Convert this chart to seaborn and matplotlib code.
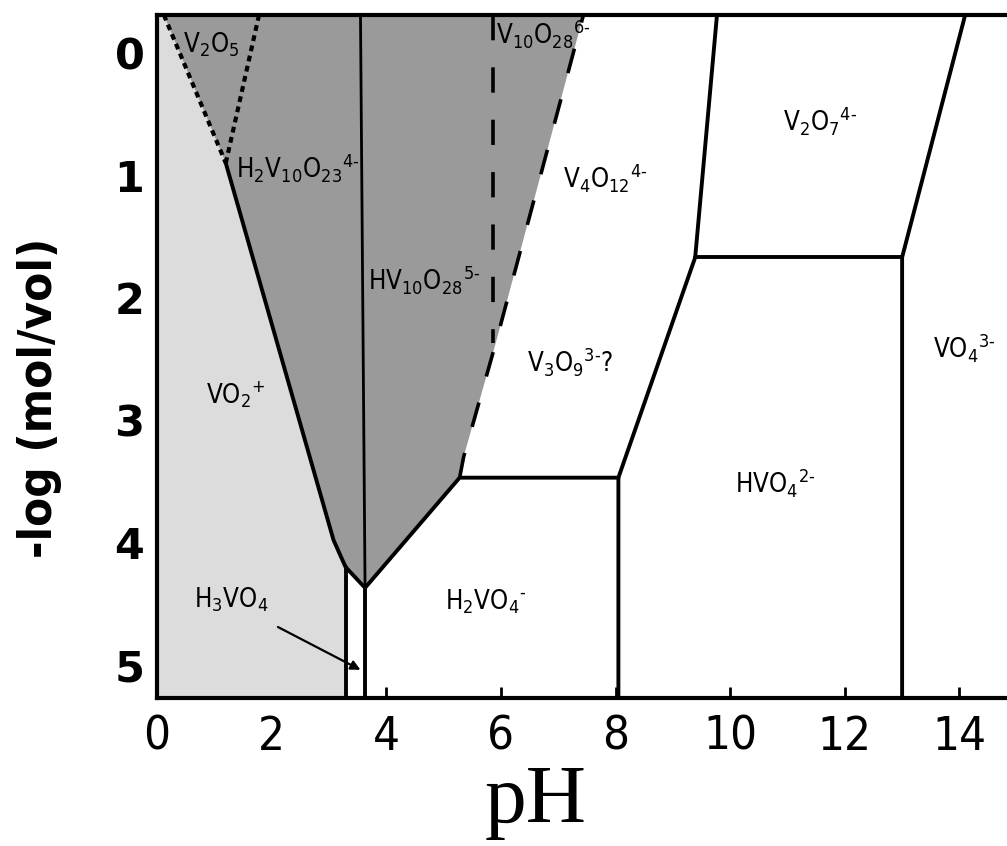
import matplotlib
matplotlib.use("Agg")
import matplotlib.pyplot as plt
import seaborn as sns

# ---------------- data ----------------
ph_range = [0.0, 14.83]
logc_range = [5.27, -0.31]          # inverted axis (bottom, top)
x_ticks = [0, 2, 4, 6, 8, 10, 12, 14]
y_ticks = [0, 1, 2, 3, 4, 5]

# shaded stability fields
vo2_ph = [0.0, 0.12, 1.20, 3.08, 3.29, 3.29, 0.0]
vo2_logc = [-0.31, -0.31, 0.90, 3.98, 4.20, 5.27, 5.27]
poly_ph = [0.12, 1.20, 3.08, 3.29, 3.63, 5.28, 5.35, 5.91, 7.44]
poly_logc = [-0.31, 0.90, 3.98, 4.20, 4.37, 3.47, 3.30, 2.37, -0.31]

# solid boundaries
b1_ph = [1.20, 3.08, 3.29, 3.63, 5.28, 8.05]
b1_logc = [0.90, 3.98, 4.20, 4.37, 3.47, 3.47]
b2_ph = [3.29, 3.29]
b2_logc = [4.20, 5.27]
b3_ph = [3.63, 3.63]
b3_logc = [4.37, 5.27]
b4_ph = [3.55, 3.63]
b4_logc = [-0.31, 4.37]
b5_ph = [8.05, 8.05, 9.39, 9.77]
b5_logc = [5.27, 3.47, 1.67, -0.31]
b6_ph = [9.39, 13.0]
b6_logc = [1.67, 1.67]
b7_ph = [13.0, 13.0, 14.1]
b7_logc = [5.27, 1.67, -0.31]

# dashed boundaries
d1_ph = [5.87, 5.87]
d1_logc = [-0.31, 2.37]
d2_ph = [5.28, 5.35, 5.91, 7.44]
d2_logc = [3.47, 3.30, 2.37, -0.31]

# dotted boundaries
p1_ph = [0.12, 1.20]
p1_logc = [-0.31, 0.90]
p2_ph = [1.78, 1.20]
p2_logc = [-0.31, 0.90]

species = [r"V$_2$O$_5$",
           r"H$_2$V$_{10}$O$_{23}{}^{4\text{-}}$",
           r"V$_{10}$O$_{28}{}^{6\text{-}}$",
           r"HV$_{10}$O$_{28}{}^{5\text{-}}$",
           r"V$_4$O$_{12}{}^{4\text{-}}$",
           r"V$_2$O$_7{}^{4\text{-}}$",
           r"V$_3$O$_9{}^{3\text{-}}$?",
           r"VO$_2{}^{+}$",
           r"HVO$_4{}^{2\text{-}}$",
           r"VO$_4{}^{3\text{-}}$",
           r"H$_3$VO$_4$",
           r"H$_2$VO$_4{}^{\text{-}}$"]
species_ph = [0.45, 1.38, 5.91, 3.69, 7.09, 10.92, 6.46, 0.85, 10.09, 13.54, 0.64, 5.03]
species_logc = [0.0, 1.02, -0.08, 1.93, 1.10, 0.63, 2.60, 2.86, 3.59, 2.49, 4.53, 4.55]

arrow_tail = (2.11, 4.69)
arrow_head = (3.55, 5.04)

# ---------------- plot ----------------
sns.set_style("ticks")
plt.rcParams["font.family"] = ["DejaVu Sans"]
plt.rcParams["font.stretch"] = "condensed"
plt.rcParams["mathtext.fontset"] = "custom"
plt.rcParams["mathtext.rm"] = "DejaVu Sans:stretch=condensed"
plt.rcParams["mathtext.it"] = "DejaVu Sans:stretch=condensed"
plt.rcParams["mathtext.bf"] = "DejaVu Sans:bold:stretch=condensed"
for k in ["text.color", "axes.labelcolor", "xtick.color", "ytick.color"]:
    plt.rcParams[k] = "black"

fig = plt.figure(figsize=(10.07, 8.46), dpi=100)
ax = fig.add_axes([157 / 1007, 1 - 698 / 846, 1 - 157 / 1007, (698 - 15) / 846])

ax.fill(vo2_ph, vo2_logc, color="#dcdcdc", lw=0, zorder=1)
ax.fill(poly_ph, poly_logc, color="#9a9a9a", lw=0, zorder=1)

def seg(xs, ys, lw=2.8, ls="-"):
    sns.lineplot(x=xs, y=ys, sort=False, estimator=None, color="black",
                 linewidth=lw, linestyle=ls, ax=ax, zorder=3)

for xs, ys in [(b1_ph, b1_logc), (b2_ph, b2_logc), (b3_ph, b3_logc),
               (b5_ph, b5_logc), (b6_ph, b6_logc), (b7_ph, b7_logc)]:
    seg(xs, ys)
seg(b4_ph, b4_logc, lw=2.0)
seg(d1_ph, d1_logc, lw=2.6, ls=(0, (7, 7.5)))
seg(d2_ph, d2_logc, lw=2.6, ls=(0, (7, 7.5)))
seg(p1_ph, p1_logc, lw=3.0, ls=(0, (1.4, 1.1)))
seg(p2_ph, p2_logc, lw=3.0, ls=(0, (1.4, 1.1)))

for lab, xv, yv in zip(species, species_ph, species_logc):
    ax.text(xv, yv, lab, fontsize=18.5, ha="left", va="baseline", zorder=4,
            fontstretch="condensed")

ax.annotate("", xy=arrow_head, xytext=arrow_tail,
            arrowprops=dict(arrowstyle="-|>", color="black", lw=1.6,
                            mutation_scale=14, shrinkA=0, shrinkB=0), zorder=4)

ax.set_xlim(ph_range)
ax.set_ylim(logc_range)
ax.set_xticks(x_ticks)
ax.set_yticks(y_ticks)
ax.set_xticklabels([str(t) for t in x_ticks], fontsize=34, fontstretch="condensed")
ax.set_yticklabels([str(t) for t in y_ticks], fontsize=31, fontweight="bold",
                   fontstretch="normal")
ax.tick_params(axis="x", direction="in", length=8, width=2, pad=12)
ax.tick_params(axis="y", direction="in", length=11, width=2, pad=9)

for side in ["left", "bottom", "top"]:
    ax.spines[side].set_linewidth(3)
    ax.spines[side].set_color("black")
    ax.spines[side].set_zorder(5)
ax.spines["right"].set_visible(False)

ax.set_xlabel("pH", fontsize=60, family=["Liberation Serif", "DejaVu Serif"],
              fontstretch="normal")
ax.xaxis.set_label_coords(0.446, -0.097)
ax.set_ylabel("-log (mol/vol)", fontsize=34, fontweight="bold", fontstretch="condensed")
ax.yaxis.set_label_coords(-0.112, 0.44)

fig.savefig("out.png", dpi=100)
